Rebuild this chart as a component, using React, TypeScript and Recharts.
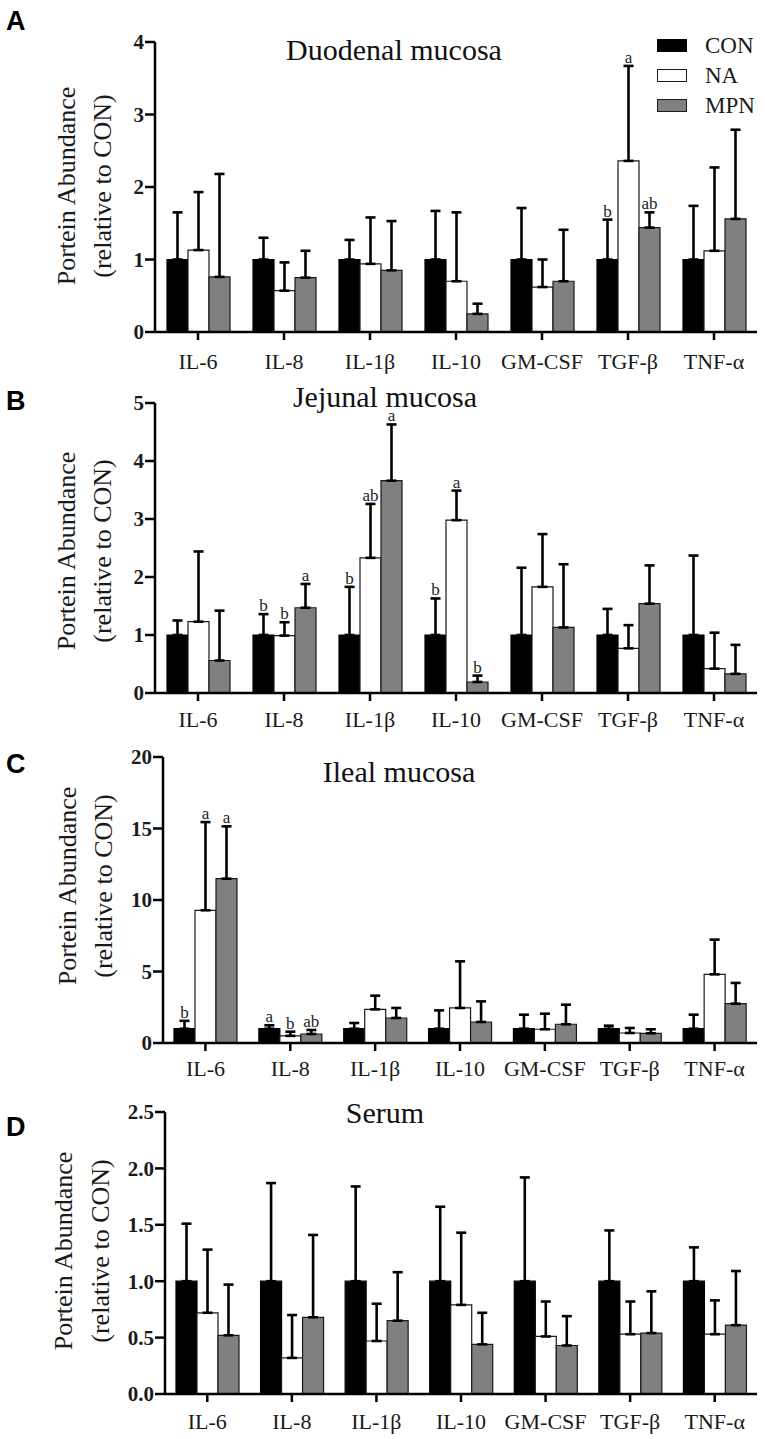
import React from 'react';
import { BarChart, Bar, XAxis, YAxis, ErrorBar, LabelList, Legend } from 'recharts';

const categories = ['IL-6', 'IL-8', 'IL-1β', 'IL-10', 'GM-CSF', 'TGF-β', 'TNF-α'];

// A - duodenal mucosa
const duoCon = [1, 1, 1, 1, 1, 1, 1];
const duoConErr = [0.65, 0.3, 0.27, 0.67, 0.71, 0.55, 0.74];
const duoNa = [1.13, 0.57, 0.94, 0.7, 0.62, 2.36, 1.12];
const duoNaErr = [0.8, 0.39, 0.64, 0.95, 0.38, 1.31, 1.15];
const duoMpn = [0.76, 0.75, 0.85, 0.25, 0.7, 1.44, 1.56];
const duoMpnErr = [1.42, 0.37, 0.68, 0.14, 0.71, 0.21, 1.23];
const duoConSig = ['', '', '', '', '', 'b', ''];
const duoNaSig = ['', '', '', '', '', 'a', ''];
const duoMpnSig = ['', '', '', '', '', 'ab', ''];

// B - jejunal mucosa
const jejCon = [1, 1, 1, 1, 1, 1, 1];
const jejConErr = [0.25, 0.36, 0.83, 0.63, 1.16, 0.45, 1.37];
const jejNa = [1.23, 0.99, 2.33, 2.98, 1.83, 0.77, 0.42];
const jejNaErr = [1.21, 0.23, 0.93, 0.51, 0.91, 0.4, 0.62];
const jejMpn = [0.56, 1.47, 3.66, 0.19, 1.13, 1.54, 0.33];
const jejMpnErr = [0.86, 0.41, 0.97, 0.11, 1.09, 0.66, 0.5];
const jejConSig = ['', 'b', 'b', 'b', '', '', ''];
const jejNaSig = ['', 'b', 'ab', 'a', '', '', ''];
const jejMpnSig = ['', 'a', 'a', 'b', '', '', ''];

// C - ileal mucosa
const ileCon = [1, 1, 1, 1, 1, 1, 1];
const ileConErr = [0.55, 0.24, 0.4, 1.28, 0.98, 0.21, 0.98];
const ileNa = [9.28, 0.5, 2.35, 2.45, 0.96, 0.7, 4.8];
const ileNaErr = [6.17, 0.29, 0.96, 3.26, 1.09, 0.35, 2.43];
const ileMpn = [11.49, 0.63, 1.75, 1.47, 1.31, 0.68, 2.75];
const ileMpnErr = [3.66, 0.28, 0.7, 1.44, 1.37, 0.28, 1.45];
const ileConSig = ['b', 'a', '', '', '', '', ''];
const ileNaSig = ['a', 'b', '', '', '', '', ''];
const ileMpnSig = ['a', 'ab', '', '', '', '', ''];

// D - serum
const serCon = [1, 1, 1, 1, 1, 1, 1];
const serConErr = [0.51, 0.87, 0.84, 0.66, 0.92, 0.45, 0.3];
const serNa = [0.72, 0.32, 0.47, 0.79, 0.51, 0.53, 0.53];
const serNaErr = [0.56, 0.38, 0.33, 0.64, 0.31, 0.29, 0.3];
const serMpn = [0.52, 0.68, 0.65, 0.44, 0.43, 0.54, 0.61];
const serMpnErr = [0.45, 0.73, 0.43, 0.28, 0.26, 0.37, 0.48];
const noSig = ['', '', '', '', '', '', ''];

const serif = '"Liberation Serif", "Times New Roman", Times, serif';
const sans = '"Liberation Sans", Arial, Helvetica, sans-serif';

const series = [
  { key: 'con', name: 'CON', fill: '#000000', stroke: '#000000' },
  { key: 'na', name: 'NA', fill: '#ffffff', stroke: '#1a1a1a' },
  { key: 'mpn', name: 'MPN', fill: '#808080', stroke: '#1a1a1a' },
];

function buildRows(con, conErr, na, naErr, mpn, mpnErr, conSig, naSig, mpnSig) {
  return categories.map((name, i) => ({
    name,
    con: con[i], conErr: [0, conErr[i]], conSig: conSig[i],
    na: na[i], naErr: [0, naErr[i]], naSig: naSig[i],
    mpn: mpn[i], mpnErr: [0, mpnErr[i]], mpnSig: mpnSig[i],
  }));
}

const panels = [
  {
    letter: 'A', title: 'Duodenal mucosa', top: 0, height: 384, plotH: 290, yWidth: 155, max: 4, ticks: [0, 1, 2, 3, 4],
    fmt: (v) => String(v), xTickMargin: 13, labelY: 186, labelX: [76, 112], titleY: 35, titleX: 394, letterY: 8,
    legend: true,
    rows: buildRows(duoCon, duoConErr, duoNa, duoNaErr, duoMpn, duoMpnErr, duoConSig, duoNaSig, duoMpnSig),
  },
  {
    letter: 'B', title: 'Jejunal mucosa', top: 361, height: 384, plotH: 290, yWidth: 155, max: 5, ticks: [0, 1, 2, 3, 4, 5],
    fmt: (v) => String(v), xTickMargin: 10, labelY: 551, labelX: [76, 112], titleY: 382, titleX: 385, letterY: 388,
    rows: buildRows(jejCon, jejConErr, jejNa, jejNaErr, jejMpn, jejMpnErr, jejConSig, jejNaSig, jejMpnSig),
  },
  {
    letter: 'C', title: 'Ileal mucosa', top: 715, height: 380, plotH: 286, yWidth: 163, max: 20, ticks: [0, 5, 10, 15, 20],
    fmt: (v) => String(v), xTickMargin: 9, labelY: 886, labelX: [77, 113], titleY: 757, titleX: 399, letterY: 751,
    rows: buildRows(ileCon, ileConErr, ileNa, ileNaErr, ileMpn, ileMpnErr, ileConSig, ileNaSig, ileMpnSig),
  },
  {
    letter: 'D', title: 'Serum', top: 1070, height: 369, plotH: 282, yWidth: 165, max: 2.5, ticks: [0, 0.5, 1, 1.5, 2, 2.5],
    fmt: (v) => v.toFixed(1), xTickMargin: 11, labelY: 1251, labelX: [73, 110], titleY: 1098, titleX: 385, letterY: 1114,
    rows: buildRows(serCon, serConErr, serNa, serNaErr, serMpn, serMpnErr, noSig, noSig, noSig),
  },
];

function sigContent(rows, key) {
  return (props) => {
    const { x, y, width, height, value, index } = props;
    if (!value) return null;
    const row = rows[index];
    const ratio = height / row[key];
    const top = y - row[key + 'Err'][1] * ratio;
    return (
      <text x={x + width / 2} y={top - 3} textAnchor="middle" fontSize={17} fill="#222" style={{ fontFamily: serif }}>
        {value}
      </text>
    );
  };
}

function LegendBox() {
  return (
    <div style={{ position: 'relative', width: 120, height: 100 }}>
      {series.map((s, i) => (
        <div key={s.key} style={{ position: 'absolute', left: 0, top: i * 30, height: 30, width: 120 }}>
          <div style={{ position: 'absolute', left: 0, top: 2, width: 30, height: 13, boxSizing: 'border-box', background: s.fill, border: `1.5px solid ${s.stroke}` }} />
          <div style={{ position: 'absolute', left: 48, top: -3, fontFamily: serif, fontSize: 23, lineHeight: 1, color: '#1a1a1a' }}>{s.name}</div>
        </div>
      ))}
    </div>
  );
}

// rotated axis title, one line; bx is the baseline x in page pixels
function SideLine({ text, bx, cy }) {
  const cx = bx - 8.8;
  return (
    <div
      style={{
        position: 'absolute', left: cx - 150, top: cy - 13, width: 300, height: 26,
        lineHeight: 1, fontSize: 26, fontFamily: serif, color: '#1a1a1a', textAlign: 'center',
        transform: 'rotate(-90deg)', whiteSpace: 'nowrap',
      }}
    >
      {text}
    </div>
  );
}

function Panel({ p }) {
  const cy = p.labelY - p.top;
  return (
    <div style={{ position: 'absolute', left: 0, top: p.top }}>
      <BarChart width={765} height={p.height} data={p.rows} margin={{ top: 42, right: 8, bottom: 0, left: 0 }} barSize={21} barGap={0}>
        <XAxis
          dataKey="name"
          height={p.height - 42 - p.plotH}
          interval={0}
          tickSize={8}
          tickMargin={p.xTickMargin}
          axisLine={{ stroke: '#000', strokeWidth: 2.5 }}
          tickLine={{ stroke: '#000', strokeWidth: 2.5 }}
          tick={{ fontSize: 22, fill: '#1a1a1a', style: { fontFamily: serif } }}
        />
        <YAxis
          width={p.yWidth}
          domain={[0, p.max]}
          ticks={p.ticks}
          tickFormatter={p.fmt}
          tickSize={10}
          tickMargin={1}
          axisLine={{ stroke: '#000', strokeWidth: 2.5 }}
          tickLine={{ stroke: '#000', strokeWidth: 2.5 }}
          tick={{ fontSize: 21, fontWeight: 700, fill: '#1a1a1a', style: { fontFamily: serif } }}
        />
        {p.legend && (
          <Legend
            layout="vertical"
            align="center"
            verticalAlign="middle"
            content={() => <LegendBox />}
            wrapperStyle={{ position: 'absolute', left: 657, top: 37, width: 120, height: 100 }}
          />
        )}
        {series.map((s) => (
          <Bar key={s.key} dataKey={s.key} name={s.name} fill={s.fill} stroke={s.stroke} strokeWidth={1.2} isAnimationActive={false}>
            <ErrorBar dataKey={s.key + 'Err'} direction="y" width={5} stroke="#000" strokeWidth={2.6} />
            <LabelList dataKey={s.key + 'Sig'} content={sigContent(p.rows, s.key)} />
          </Bar>
        ))}
      </BarChart>
      <SideLine text="Portein Abundance" bx={p.labelX[0]} cy={cy} />
      <SideLine text="(relative to CON)" bx={p.labelX[1]} cy={cy} />
      <div style={{ position: 'absolute', left: p.titleX - 200, width: 400, top: p.titleY - p.top, textAlign: 'center', fontFamily: serif, fontSize: 30, lineHeight: 1, color: '#111' }}>
        {p.title}
      </div>
      <div style={{ position: 'absolute', left: 6, top: p.letterY - p.top, fontFamily: sans, fontWeight: 700, fontSize: 27, lineHeight: 1, color: '#000' }}>
        {p.letter}
      </div>
    </div>
  );
}

export default function App() {
  return (
    <div style={{ position: 'absolute', left: 0, top: 0, width: 765, height: 1439, background: '#fff', overflow: 'hidden' }}>
      {panels.map((p) => (
        <Panel key={p.letter} p={p} />
      ))}
    </div>
  );
}
